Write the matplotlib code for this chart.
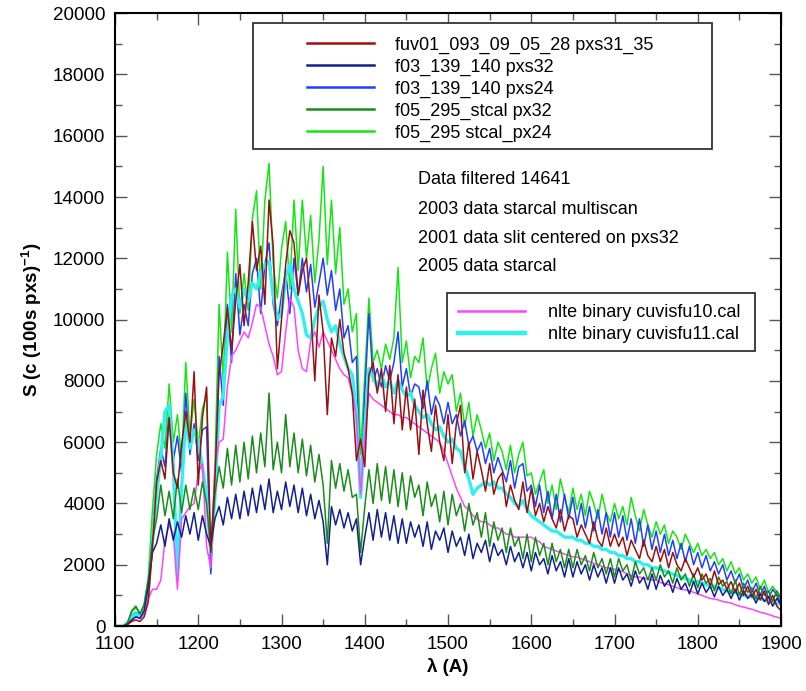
import matplotlib
matplotlib.use('Agg')
import matplotlib.pyplot as plt
from matplotlib.lines import Line2D
from matplotlib.patches import Rectangle
from matplotlib.ticker import MultipleLocator
import numpy as np

plt.rcParams['font.family'] = ['Liberation Sans', 'DejaVu Sans']
plt.rcParams['mathtext.fontset'] = 'custom'
plt.rcParams['mathtext.rm'] = 'Liberation Sans'
plt.rcParams['mathtext.bf'] = 'Liberation Sans:bold'

# wavelength grid (A), one sample every 5 A
wavelength = np.arange(1100, 1905, 5)

# fuv01_093_09_05_28 pxs31_35
red_pxs31 = [
    0, 0, 0, 50, 150, 200, 150, 300, 800, 2600,
    4700, 5400, 4800, 6800, 5000, 4500, 5900, 7000, 6000, 8300,
    4600, 6800, 7800, 2400, 4800, 8200, 9200, 10400, 9000, 10600,
    11800, 9800, 11200, 13200, 11600, 12400, 10500, 13900, 12400, 8400,
    10000, 11800, 12900, 12500, 10800, 11600, 12000, 10400, 8000, 10800,
    9600, 6900, 9400, 8800, 10000, 8900, 8400, 7600, 5400, 6100,
    5200, 8200, 8600, 7600, 8400, 7000, 8500, 6600, 8200, 6400,
    7800, 6400, 7400, 5600, 7700, 6600, 5700, 7200, 6000, 5400,
    6900, 5300, 6600, 7200, 5000, 6000, 4800, 5700, 5100, 4400,
    5300, 4300, 4800, 5000, 3900, 4600, 4100, 3800, 4700, 3700,
    4500, 3600, 4000, 3400, 3900, 3500, 3200, 3800, 3100, 3600,
    3500, 2900, 3300, 3000, 2700, 3400, 2800, 2600, 3200, 2600,
    3000, 2600, 2900, 2300, 2800, 2500, 2200, 2800, 2300, 2100,
    2600, 2100, 2500, 1900, 2400, 2000, 1800, 2200, 1900, 1600,
    1900, 1500, 1700, 1300, 1800, 1350, 1500, 1200, 1450, 1100,
    1400, 1000, 1300, 950, 1200, 850, 1150, 700, 1000, 650,
    500]

# f03_139_140 pxs32
navy_pxs32 = [
    0, 0, 0, 50, 200, 300, 250, 500, 1300, 2400,
    2700, 3300, 2600, 3500, 2800, 3400, 2900, 3600, 3000, 3700,
    2800, 3600, 3000, 2600, 3500, 3900, 3300, 4200, 3500, 4300,
    3500, 4400, 3600, 4500, 3700, 4600, 3800, 4800, 3700, 4400,
    3800, 4700, 3900, 4600, 3700, 4500, 3600, 4300, 3500, 4100,
    3400, 2000, 3900, 3300, 3800, 3200, 3700, 3100, 3500, 2000,
    2900, 3700, 2800, 3800, 2900, 3700, 2800, 3600, 2700, 3500,
    2700, 3400, 2900, 3300, 2600, 3400, 2500, 3100, 2800, 3200,
    2400, 3100, 2600, 2900, 2300, 3000, 2200, 2700, 2400, 2800,
    2100, 2700, 2300, 2500, 2000, 2600, 2100, 2400, 1900, 2400,
    1800, 2400, 2000, 2200, 1700, 2300, 1800, 2100, 1600, 2200,
    1600, 2100, 1700, 2000, 1500, 2000, 1600, 1900, 1400, 1900,
    1400, 1900, 1500, 1700, 1300, 1800, 1400, 1600, 1200, 1700,
    1200, 1650, 1300, 1500, 1100, 1550, 1200, 1400, 1050, 1450,
    1050, 1400, 1100, 1300, 950, 1300, 1000, 1200, 900, 1200,
    850, 1150, 900, 1050, 750, 1050, 800, 950, 650, 900,
    700]

# f03_139_140 pxs24
blue_pxs24 = [
    0, 0, 0, 80, 350, 450, 350, 600, 1300, 3000,
    4800, 5800, 5200, 7000, 5400, 6200, 5000, 7600, 5600, 6600,
    5400, 6400, 6500, 1700, 4500, 8800, 7200, 10500, 8600, 11500,
    9500, 10500, 9800, 11500, 12000, 10200, 11800, 12500, 10500, 9800,
    10800, 11600, 10200, 12000, 10800, 12000, 10900, 11800, 10400, 11200,
    12000, 10800, 11600, 10300, 11000, 9400, 9800, 8600, 8800, 4200,
    7600, 10200, 8000, 8400, 7800, 8500, 8000, 8600, 9600, 7800,
    8400, 7500, 7900, 7800, 7100, 8000, 6900, 7500, 7200, 6600,
    7300, 6600, 6900, 6200, 6700, 5900, 6200, 5700, 6000, 5300,
    5800, 5000, 5500, 5100, 4700, 5400, 4500, 5200, 5300, 4400,
    4600, 3900, 4600, 3700, 4400, 3500, 4300, 3400, 4300, 3500,
    4200, 3300, 4000, 3200, 3900, 3100, 3800, 3000, 3700, 2900,
    3700, 2900, 3600, 2800, 3500, 2700, 3500, 2600, 3300, 2500,
    3100, 2400, 3000, 2300, 2800, 2200, 2700, 2100, 2600, 2000,
    2400, 1900, 2300, 1800, 2100, 1700, 2000, 1500, 1800, 1400,
    1700, 1200, 1500, 1100, 1400, 1000, 1300, 900, 1200, 1000,
    700]

# f05_295_stcal px32
dkgreen_px32 = [
    0, 0, 0, 100, 500, 650, 400, 700, 1500, 2800,
    3500, 4600, 3600, 4400, 3500, 4800, 3700, 4600, 3800, 4500,
    3800, 4700, 4000, 2500, 4300, 5200, 4500, 5800, 4600, 5900,
    4700, 6000, 4800, 6200, 5000, 6300, 5200, 7600, 5100, 6000,
    5000, 6900, 5200, 6300, 5000, 6100, 4900, 5900, 4700, 5600,
    4600, 2700, 5400, 4500, 5300, 4400, 5100, 4200, 4300, 2400,
    3900, 5100, 4000, 5300, 4100, 5200, 4000, 5100, 3900, 5000,
    3800, 4900, 4200, 4600, 3600, 4700, 3900, 4300, 3400, 4400,
    3300, 4300, 3600, 4000, 3100, 4000, 3300, 3700, 2900, 3700,
    2600, 3400, 2800, 3200, 2400, 3200, 2600, 2900, 2200, 3000,
    2100, 2900, 2300, 2700, 2000, 2700, 2100, 2500, 1900, 2500,
    1900, 2500, 2000, 2300, 1800, 2400, 1900, 2200, 1700, 2200,
    1600, 2200, 1800, 2000, 1500, 2100, 1700, 1900, 1500, 1900,
    1500, 2000, 1600, 1800, 1400, 1900, 1500, 1700, 1300, 1700,
    1250, 1700, 1400, 1550, 1150, 1600, 1300, 1450, 1050, 1500,
    1000, 1400, 1100, 1250, 900, 1300, 1000, 1150, 800, 1150,
    900]

# f05_295 stcal_px24
lime_px24 = [
    0, 0, 0, 100, 450, 600, 380, 700, 1600, 3800,
    5600, 6600, 5800, 7900, 6000, 6900, 5400, 8600, 6200, 7400,
    5900, 7100, 7500, 1800, 5200, 10500, 8000, 12200, 9600, 13600,
    10200, 11500, 10300, 13300, 14200, 11000, 13900, 15100, 11800, 10700,
    12300, 13200, 11000, 13900, 11600, 13900, 12000, 13400, 11200, 12600,
    15000, 11800, 13900, 11500, 13000, 10500, 11000, 9600, 10200, 5600,
    8200, 10700, 8600, 9000, 8400, 9200, 8700, 9400, 11700, 8600,
    9300, 8100, 8800, 8600, 9400, 7700, 8400, 8900, 7600, 8300,
    7900, 8200, 7000, 7600, 6500, 7300, 6200, 6900, 6400, 5800,
    6300, 5400, 6000, 5700, 5100, 5900, 5000, 5600, 6000, 4900,
    5000, 4300, 4700, 5100, 4000, 4600, 3800, 4800, 4200, 3700,
    4500, 3800, 4300, 3600, 4400, 4000, 3500, 4300, 3700, 3400,
    4000, 3500, 3900, 3300, 4200, 3600, 3100, 3800, 3300, 2900,
    3400, 3000, 3300, 2700, 3100, 2900, 2500, 3000, 2700, 2400,
    2700, 2300, 2500, 2200, 2400, 2000, 2200, 1800, 2100, 1700,
    1900, 1500, 1700, 1400, 1600, 1200, 1500, 1100, 1300, 1100,
    800]

# nlte binary cuvisfu10.cal
magenta_cal10 = [
    0, 0, 0, 50, 200, 300, 250, 400, 900, 1200,
    1200, 1500, 2800, 3300, 3000, 1200, 3500, 3700, 3900, 4000,
    5000, 5300, 2600, 1900, 5200, 6000, 6100, 7800, 8800, 9000,
    9300, 9600, 9400, 9900, 10500, 10400, 9800, 9200, 8800, 8200,
    8300, 9600, 10700, 10400, 9000, 8400, 8300, 9300, 9600, 9100,
    9600, 9300, 9000, 8700, 8400, 8200, 8100, 7600, 6800, 4300,
    6200, 7600, 7400, 7300, 7200, 7100, 7000, 6900, 6900, 6800,
    6800, 6700, 6600, 6500, 6400, 6300, 6200, 6100, 6000, 5700,
    5300, 4900, 4500, 4200, 3900, 3800, 3600, 3500, 3400, 3400,
    3300, 3200, 3200, 3100, 3000, 3000, 2900, 2900, 2900, 2900,
    2900, 2800, 2750, 2600, 2550, 2500, 2450, 2400, 2350, 2300,
    2260, 2250, 2200, 2150, 2100, 2050, 2000, 1950, 1900, 1880,
    1850, 1800, 1780, 1700, 1650, 1600, 1600, 1550, 1550, 1500,
    1500, 1420, 1380, 1350, 1300, 1250, 1200, 1180, 1150, 1100,
    1050, 1000, 950, 900, 880, 850, 800, 780, 750, 700,
    650, 620, 580, 550, 500, 450, 420, 380, 330, 290,
    250]

# nlte binary cuvisfu11.cal
cyan_cal11 = [
    0, 0, 0, 100, 300, 400, 300, 500, 1200, 2800,
    4300, 5500, 7000, 7200, 5200, 1600, 4500, 6800, 5800, 6400,
    6000, 5200, 4200, 2400, 4200, 7200, 7500, 9500, 10800, 11000,
    10400, 11000, 10600, 11200, 11000, 11500, 11800, 11900, 10800, 10000,
    10200, 11400, 11800, 11000, 10600, 10200, 9500, 9400, 10000, 10400,
    10600, 10000, 9600, 9800, 9200, 8800, 8400, 8200, 7000, 4200,
    6400, 8400, 8100, 7800, 8200, 7800, 8000, 7600, 8000, 7700,
    7500, 7600, 7200, 7000, 6800, 6900, 6600, 6400, 6500, 6200,
    6000, 6100, 5800, 5700, 5200, 4800, 4300, 4500, 4600, 4700,
    4600, 4700, 4500, 4500, 4300, 4200, 4000, 3900, 4100, 3800,
    3600, 3500, 3400, 3300, 3200, 3100, 3100, 3000, 2900, 2900,
    2900, 2800, 2800, 2700, 2700, 2600, 2600, 2500, 2500, 2400,
    2400, 2300, 2300, 2200, 2200, 2100, 2100, 2000, 2000, 1900,
    1900, 1850, 1800, 1750, 1700, 1650, 1600, 1550, 1500, 1450,
    1450, 1400, 1350, 1300, 1300, 1250, 1200, 1150, 1100, 1100,
    1050, 1000, 1000, 950, 900, 900, 850, 800, 800, 750,
    700]

labels_top = ['fuv01_093_09_05_28 pxs31_35', 'f03_139_140 pxs32', 'f03_139_140 pxs24',
              'f05_295_stcal px32', 'f05_295 stcal_px24']
labels_model = ['nlte binary cuvisfu10.cal', 'nlte binary cuvisfu11.cal']
notes = ['Data filtered 14641', '2003 data starcal multiscan',
         '2001 data slit centered on pxs32', '2005 data starcal']

c_red = '#9a1010'
c_navy = '#12208e'
c_blue = '#2040ff'
c_dkgreen = '#1a8c1a'
c_lime = '#14e614'
c_magenta = '#ff44ff'
c_cyan = '#2ef0f0'

fig = plt.figure(figsize=(8.06, 6.91), dpi=100)
ax = fig.add_axes([0.1427, 0.094, 0.8263, 0.887])

ax.plot(wavelength, lime_px24, color=c_lime, lw=1.1, zorder=1)
ax.plot(wavelength, blue_pxs24, color=c_blue, lw=1.1, zorder=1.2)
ax.plot(wavelength, cyan_cal11, color=c_cyan, lw=2.4, zorder=1.4)
ax.plot(wavelength, magenta_cal10, color=c_magenta, lw=1.1, zorder=1.6)
ax.plot(wavelength, dkgreen_px32, color=c_dkgreen, lw=1.1, zorder=1.8)
ax.plot(wavelength, navy_pxs32, color=c_navy, lw=1.1, zorder=2.0)
ax.plot(wavelength, red_pxs31, color=c_red, lw=1.1, zorder=2.2)

ax.set_xlim(1100, 1900)
ax.set_ylim(0, 20000)
ax.xaxis.set_major_locator(MultipleLocator(100))
ax.xaxis.set_minor_locator(MultipleLocator(50))
ax.yaxis.set_major_locator(MultipleLocator(2000))
ax.yaxis.set_minor_locator(MultipleLocator(1000))
ax.tick_params(which='both', direction='in', top=True, right=True,
               color='#555555', labelsize=13.5, pad=7)
ax.tick_params(which='major', length=8.5, width=1)
ax.tick_params(which='minor', length=5, width=1)
for s in ax.spines.values():
    s.set_linewidth(1.5)

ax.set_xlabel('λ (A)', fontsize=13.5, fontweight='bold', labelpad=4)
ax.set_ylabel(r'S (c (100s pxs)$^{\mathbf{-1}}$)', fontsize=13.5,
              fontweight='bold', labelpad=6)

# upper legend (data sets)
h_top = [Line2D([], [], color=c, lw=1.8) for c in [c_red, c_navy, c_blue, c_dkgreen, c_lime]]
leg1 = ax.legend(h_top, labels_top, loc='upper left', bbox_to_anchor=(0.288, 0.962),
                 frameon=False, borderpad=0, fontsize=13, handlelength=3.7,
                 handletextpad=1.2, labelspacing=0.27, borderaxespad=0)
ax.add_artist(leg1)
ax.add_patch(Rectangle((0.207, 0.778), 0.689, 0.206, transform=ax.transAxes,
                       facecolor='white', edgecolor='#333333', lw=1.3,
                       clip_on=False, zorder=4))

# lower legend (models)
h_mod = [Line2D([], [], color=c_magenta, lw=1.8), Line2D([], [], color=c_cyan, lw=3.2)]
leg2 = ax.legend(h_mod, labels_model, loc='upper left', bbox_to_anchor=(0.515, 0.525),
                 frameon=False, borderpad=0, fontsize=13, handlelength=3.7,
                 handletextpad=1.3, labelspacing=0.27, borderaxespad=0)
ax.add_patch(Rectangle((0.498, 0.449), 0.463, 0.094, transform=ax.transAxes,
                       facecolor='white', edgecolor='#333333', lw=1.3,
                       clip_on=False, zorder=4))
leg1.set_zorder(5)
leg2.set_zorder(5)

for txt, yy in zip(notes, [0.729, 0.680, 0.633, 0.586]):
    ax.text(0.455, yy, txt, transform=ax.transAxes, va='center', ha='left', fontsize=13)

fig.savefig('out.png', dpi=100)
